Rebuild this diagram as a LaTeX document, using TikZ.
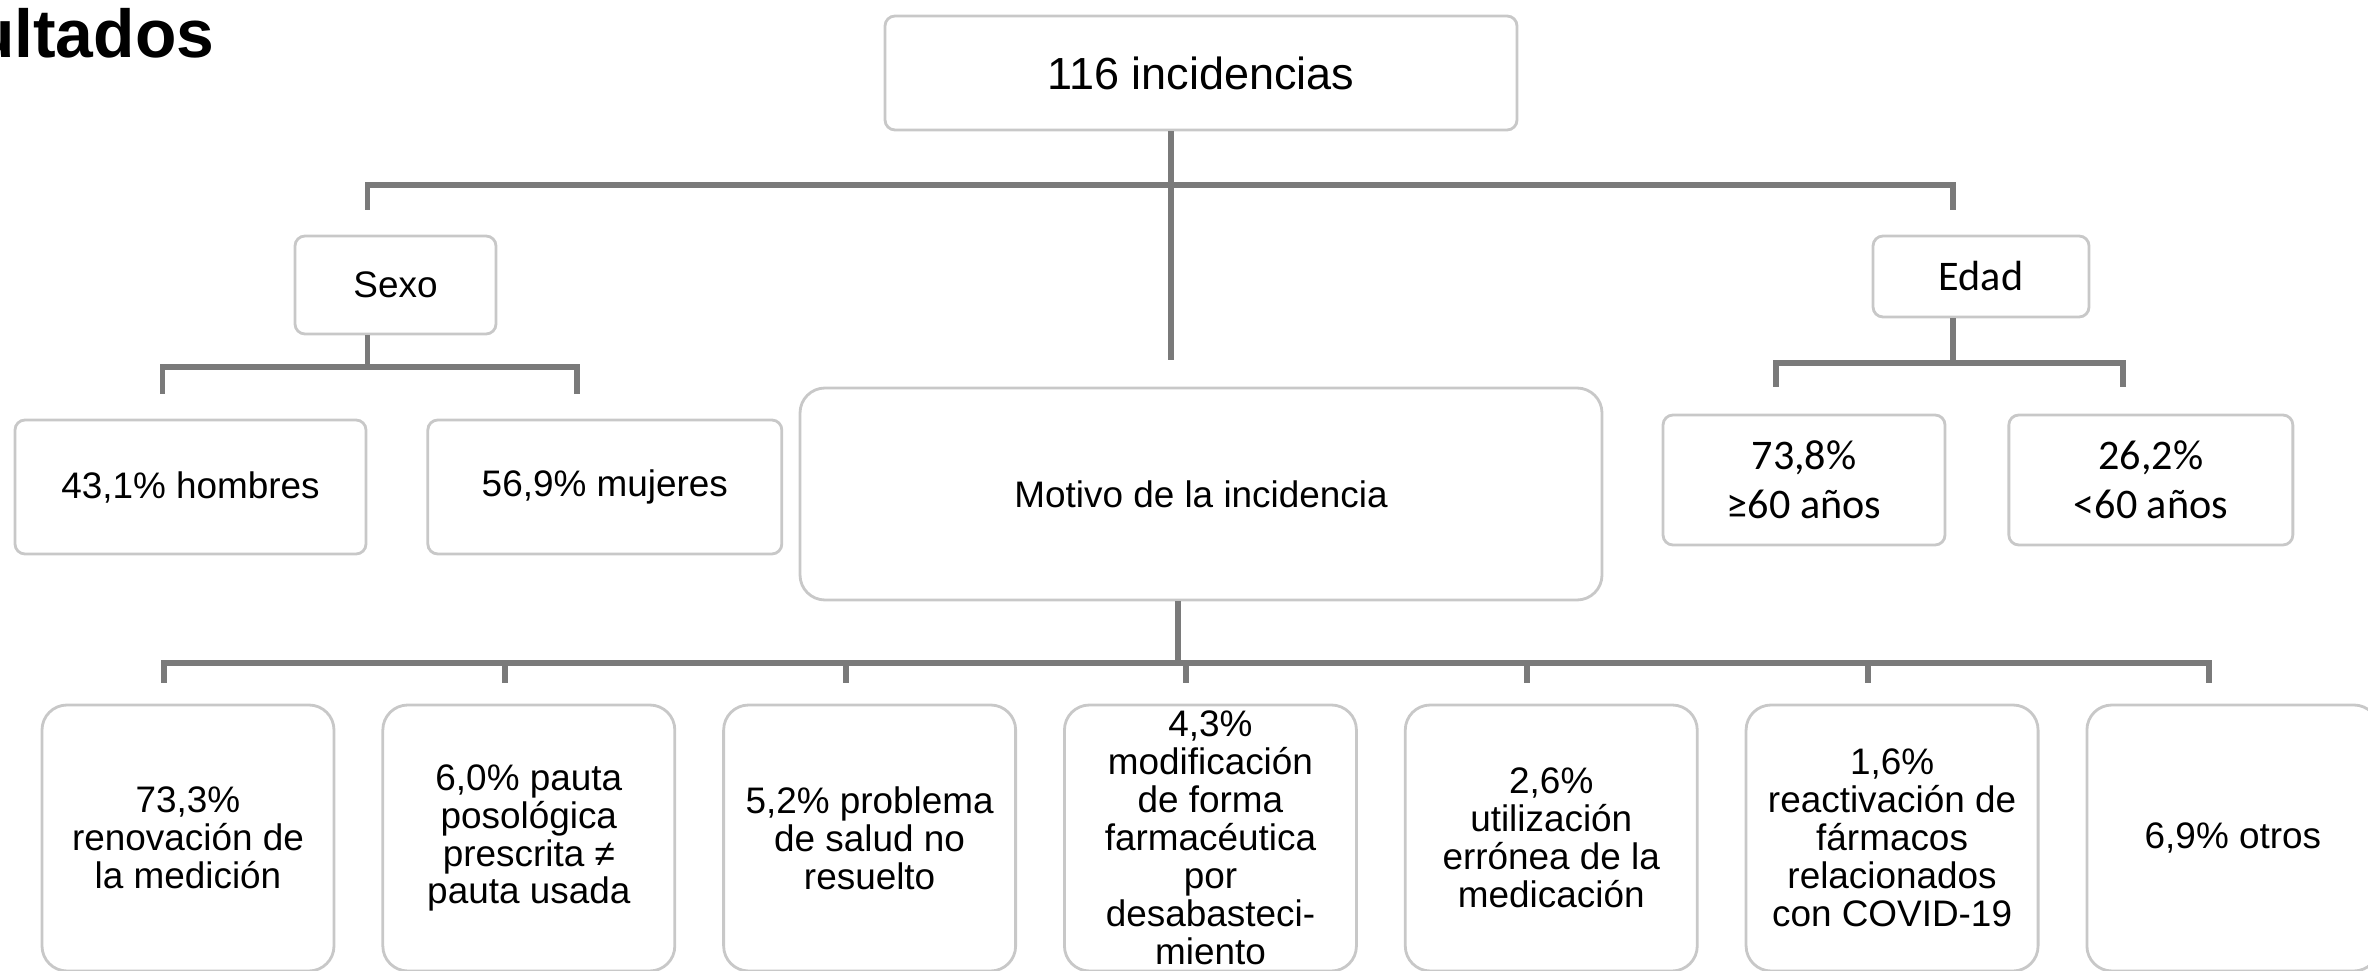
\documentclass[tikz,border=0pt]{standalone}
\usepackage{fontspec}
\setmainfont{Liberation Sans}
\newfontfamily\calibri{Carlito}
\usepackage{tikz}
\usetikzlibrary{positioning}
\definecolor{boxgray}{RGB}{200,200,200}
\definecolor{linegray}{RGB}{122,122,122}

\begin{document}
\begin{tikzpicture}[
    node distance=0.46cm,
    box/.style={rectangle, draw=boxgray, line width=0.8pt, rounded corners=1mm, fill=white, align=center, font=\fontsize{10.5}{11}\selectfont},
    agebox/.style={box, font=\calibri\fontsize{12}{14}\selectfont},
    bigbox/.style={box, rounded corners=2.5mm, inner ysep=0pt, minimum width=2.92cm, minimum height=2.66cm, font=\fontsize{10.5}{10.8}\selectfont},
    link/.style={draw=linegray, line width=1.7pt}
]
    \useasboundingbox (0,0) rectangle (23.68,-9.71);

    % Title, cut by the left edge
    \node[anchor=base east, inner sep=0pt, font=\bfseries\fontsize{19.3}{21}\selectfont] (title) at (2.15,-0.58) {Resultados};

    % Nodes
    \node[box, font=\fontsize{12.8}{14}\selectfont, minimum width=6.32cm, minimum height=1.14cm] (total) at (12.01,-0.73) {116 incidencias};
    \node[box, minimum width=2.01cm, minimum height=0.98cm] (sexo) at (3.955,-2.85) {Sexo};
    \node[agebox, minimum width=2.16cm, minimum height=0.81cm] (edad) at (19.81,-2.765) {Edad};

    \node[box, minimum width=3.51cm, minimum height=1.34cm] (hombres) at (1.905,-4.87) {43,1\% hombres};
    \node[box, minimum width=3.54cm, minimum height=1.34cm, right=0.59cm of hombres] (mujeres) {56,9\% mujeres};
    \node[box, rounded corners=2.5mm, minimum width=8.02cm, minimum height=2.12cm] (motivo) at (12.01,-4.94) {Motivo de la incidencia};
    \node[agebox, minimum width=2.82cm, minimum height=1.30cm] (mayores) at (18.04,-4.80) {73,8\%\\≥60 años};
    \node[agebox, minimum width=2.84cm, minimum height=1.30cm, right=0.61cm of mayores] (menores) {26,2\%\\<60 años};

    \node[bigbox] (renovacion) at (1.88,-8.38) {73,3\%\\renovación de\\la medición};
    \node[bigbox, right=of renovacion] (pauta) {6,0\% pauta\\posológica\\prescrita ≠\\pauta usada};
    \node[bigbox, right=of pauta] (salud) {5,2\% problema\\de salud no\\resuelto};
    \node[bigbox, right=of salud] (forma) {4,3\%\\modificación\\de forma\\farmacéutica\\por\\desabasteci-\\miento};
    \node[bigbox, right=of forma] (uso) {2,6\%\\utilización\\errónea de la\\medicación};
    \node[bigbox, right=of uso] (covid) {1,6\%\\reactivación de\\fármacos\\relacionados\\con COVID-19};
    \node[bigbox, right=of covid] (otros) {6,9\% otros};

    % Connectors
    \draw[link] ([xshift=-3mm]total.south) -- ([xshift=-3mm, yshift=2.7mm]motivo.north);
    \draw[link] ([xshift=-2.8mm, yshift=2.5mm]sexo.north) -- ++(0,0.25) -| ([xshift=-2.8mm, yshift=2.5mm]edad.north);

    \draw[link] ([xshift=-2.8mm]sexo.south) -- ++(0,-0.34);
    \draw[link] ([xshift=-2.8mm, yshift=2.5mm]hombres.north) -- ++(0,0.27) -| ([xshift=-2.8mm, yshift=2.5mm]mujeres.north);

    \draw[link] ([xshift=-2.8mm]edad.south) -- ++(0,-0.47);
    \draw[link] ([xshift=-2.8mm, yshift=2.7mm]mayores.north) -- ++(0,0.24) -| ([xshift=-2.8mm, yshift=2.7mm]menores.north);

    \draw[link] ([xshift=-2.3mm]motivo.south) -- ++(0,-0.62);
    \draw[link] ([xshift=-2.4mm, yshift=2.1mm]renovacion.north) -- ++(0,0.2) -| ([xshift=-2.4mm, yshift=2.1mm]otros.north);
    \foreach \b in {pauta, salud, forma, uso, covid}
        \draw[link] ([xshift=-2.4mm, yshift=2.1mm]\b.north) -- ++(0,0.2);
\end{tikzpicture}
\end{document}
